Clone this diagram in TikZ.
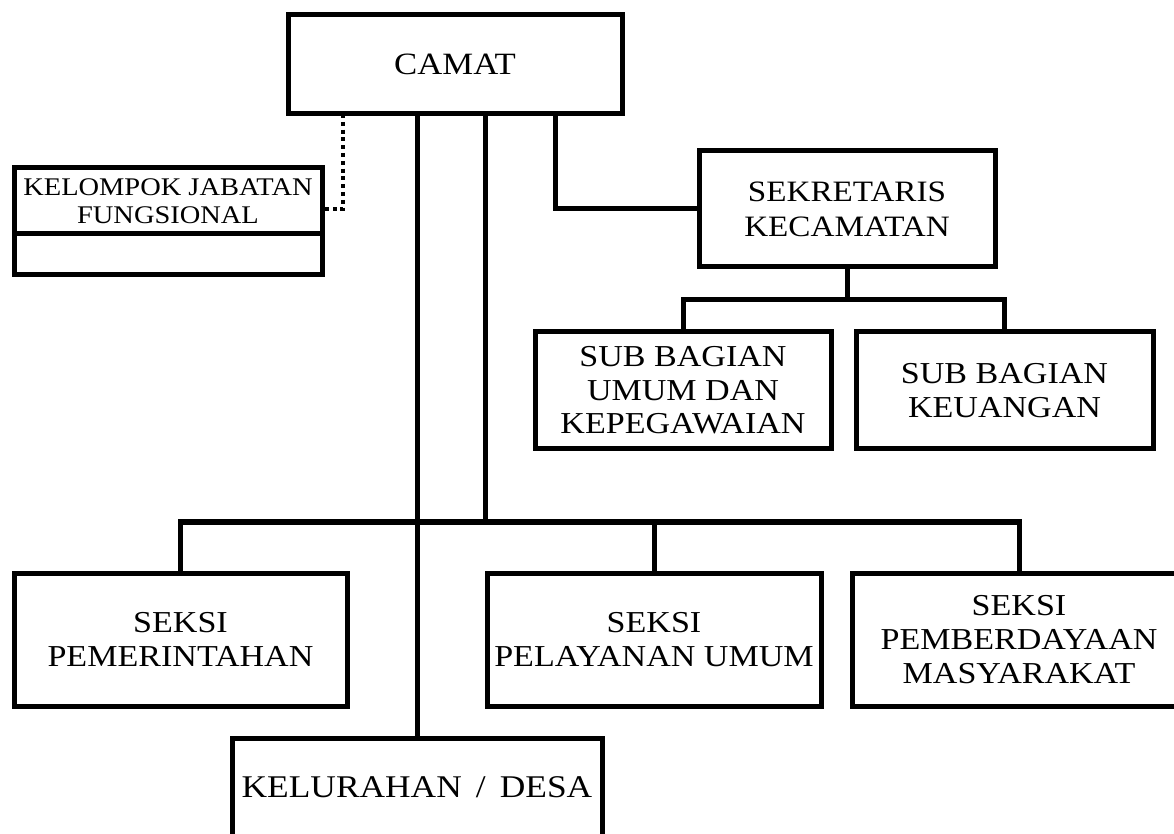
\documentclass[tikz,border=0pt]{standalone}
\usepackage{fontspec}
\setmainfont{Liberation Serif}[FakeStretch=1.12]
\usetikzlibrary{positioning}

\tikzset{
  unit/.style={draw, line width=2.5pt, outer sep=0pt, inner sep=0pt, align=center,
    font=\fontsize{15.2}{16.8}\selectfont},
  link/.style={line width=2.5pt},
  staf/.style={line width=2.4pt, dash pattern=on 2pt off 1.9pt}
}

\begin{document}
\begin{tikzpicture}[x=0.5pt,y=-0.5pt]
    \useasboundingbox (0,0) rectangle (1174,834);

    % draw boxes
    \node[unit, minimum width=167pt, minimum height=49.5pt, font=\fontsize{15.5}{18}\selectfont] (camat) at (455,64.5) {CAMAT};
    \node[unit, minimum width=154pt, minimum height=33pt, font=\fontsize{12.7}{14.2}\selectfont] (jabatan) at (168,201) {KELOMPOK JABATAN\\FUNGSIONAL};
    \node[unit, minimum width=154pt, minimum height=20.5pt, below=0pt of jabatan] (jabatanbawah) {};
    \node[unit, minimum width=148pt, minimum height=58pt, font=\fontsize{14.8}{17.5}\selectfont] (sekretaris) at (847,209) {SEKRETARIS\\KECAMATAN};
    \node[unit, minimum width=148pt, minimum height=58.5pt] (subumum) at (683,390.5) {SUB BAGIAN\\UMUM DAN\\KEPEGAWAIAN};
    \node[unit, minimum width=148.5pt, minimum height=58.5pt] (subkeu) at (1004.5,390.5) {SUB BAGIAN\\KEUANGAN};
    \node[unit, minimum width=166.5pt, minimum height=66.5pt] (pemerintahan) at (180.5,639.5) {SEKSI\\PEMERINTAHAN};
    \node[unit, minimum width=167pt, minimum height=66.5pt] (pelayanan) at (654,639.5) {SEKSI\\PELAYANAN UMUM};
    \node[unit, minimum width=167pt, minimum height=66.5pt] (pemberdayaan) at (1019,639.5) {SEKSI\\PEMBERDAYAAN\\MASYARAKAT};
    \node[unit, minimum width=185pt, minimum height=49pt, font=\fontsize{15.8}{18}\selectfont] (kelurahan) at (417,787) {KELURAHAN \,/\, DESA};

    % draw connectors
    \coordinate (busseksi) at (485,522);
    \coordinate (belok) at (555,209);
    \coordinate (bussub) at (847,300);
    \coordinate (titik) at (343,209);

    \draw[link] (camat.south -| kelurahan.north) -- (kelurahan.north);
    \draw[link] (camat.south -| busseksi) -- (busseksi);
    \draw[link] (pemerintahan.north) |- (pemberdayaan.north |- busseksi) -- (pemberdayaan.north);
    \draw[link] (pelayanan.north) -- (pelayanan.north |- busseksi);

    \draw[link] (camat.south -| belok) |- (sekretaris.west);
    \draw[link] (sekretaris.south) -- (bussub);
    \draw[link] (subumum.north) |- (bussub) -| (subkeu.north);

    \draw[staf] (camat.south -| titik) -- (titik) -- (titik -| jabatan.east);
\end{tikzpicture}
\end{document}
